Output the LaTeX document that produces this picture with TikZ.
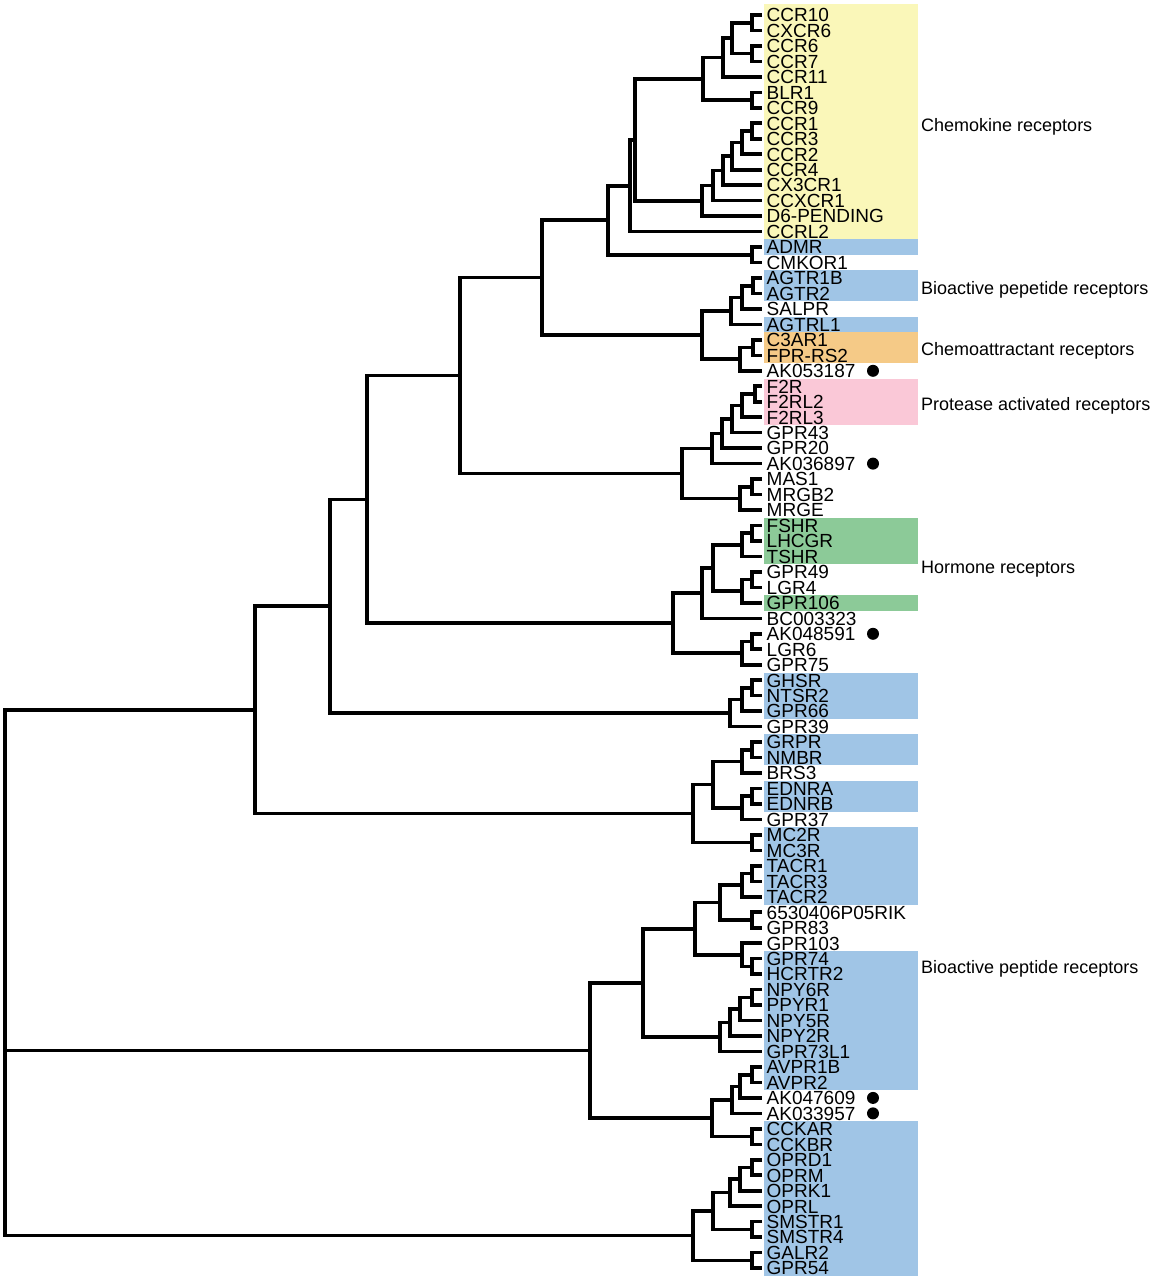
\documentclass[tikz,border=0pt]{standalone}
\usepackage{fontspec}
\setmainfont{Liberation Sans}
\usetikzlibrary{calc}
\definecolor{cyel}{RGB}{250,247,185}
\definecolor{cblu}{RGB}{160,197,230}
\definecolor{corg}{RGB}{245,202,135}
\definecolor{cpnk}{RGB}{250,200,215}
\definecolor{cgrn}{RGB}{140,202,152}
\tikzset{
  branch/.style={line width=3.6pt, black},
  leaf/.style={anchor=west, inner sep=0pt, font=\fontsize{19}{19}\selectfont, text height=13.6pt, text depth=0pt},
  grouplab/.style={anchor=base west, inner sep=0pt, font=\fontsize{18}{18}\selectfont},
  mark dot/.style={circle, fill=black, minimum size=12pt, inner sep=0pt}
}
\newcommand\tjoin[4]{%
  \path (#3) -- (#4) coordinate[pos=0.5] (jnmid);
  \coordinate (jnx) at (#2,0);
  \coordinate (#1) at (jnmid -| jnx);
  \draw[branch] (#3) -| (#1) |- (#4);%
}
\newcommand\gbox[3]{\fill[#1] ($(l#2)+(2,7.7)$) rectangle ($(l#3)+(156,-7.7)$);}
\begin{document}
\begin{tikzpicture}[x=1pt,y=1pt]
\fill[white] (0,0) rectangle (1149,-1280);
\useasboundingbox (0,0) rectangle (1149,-1280);
% leaf coordinates
\foreach \i in {1,...,82}{
  \pgfmathsetmacro\yy{-15-(\i-1)*15.47}
  \coordinate (l\i) at (762,\yy);
}
% coloured boxes
\fill[cyel] ($(l1)+(2,11)$) rectangle ($(l15)+(156,-7.7)$);
\gbox{cblu}{16}{16}
\gbox{cblu}{18}{19}
\gbox{cblu}{21}{21}
\gbox{corg}{22}{23}
\gbox{cpnk}{25}{27}
\gbox{cgrn}{34}{36}
\gbox{cgrn}{39}{39}
\gbox{cblu}{44}{46}
\gbox{cblu}{48}{49}
\gbox{cblu}{51}{52}
\gbox{cblu}{54}{58}
\gbox{cblu}{62}{70}
\gbox{cblu}{73}{82}
% leaf labels
\foreach \nm [count=\i] in {CCR10,CXCR6,CCR6,CCR7,CCR11,BLR1,CCR9,CCR1,CCR3,CCR2,CCR4,CX3CR1,CCXCR1,D6-PENDING,CCRL2,ADMR,CMKOR1,AGTR1B,AGTR2,SALPR,AGTRL1,C3AR1,FPR-RS2,AK053187,F2R,F2RL2,F2RL3,GPR43,GPR20,AK036897,MAS1,MRGB2,MRGE,FSHR,LHCGR,TSHR,GPR49,LGR4,GPR106,BC003323,AK048591,LGR6,GPR75,GHSR,NTSR2,GPR66,GPR39,GRPR,NMBR,BRS3,EDNRA,EDNRB,GPR37,MC2R,MC3R,TACR1,TACR3,TACR2,6530406P05RIK,GPR83,GPR103,GPR74,HCRTR2,NPY6R,PPYR1,NPY5R,NPY2R,GPR73L1,AVPR1B,AVPR2,AK047609,AK033957,CCKAR,CCKBR,OPRD1,OPRM,OPRK1,OPRL,SMSTR1,SMSTR4,GALR2,GPR54}{
  \node[leaf] (t\i) at ($(l\i)+(4.5,0)$) {\nm};
}
% dots
\foreach \i in {24,30,41,71,72}{
  \node[mark dot] (d\i) at ($(l\i)+(111,0)$) {};
}
% group labels
\node[grouplab] (gl1) at (921,-131.5) {Chemokine receptors};
\node[grouplab] (gl2) at (921,-294.5) {Bioactive pepetide receptors};
\node[grouplab] (gl3) at (921,-355.5) {Chemoattractant receptors};
\node[grouplab] (gl4) at (921,-410.5) {Protease activated receptors};
\node[grouplab] (gl5) at (921,-573.5) {Hormone receptors};
\node[grouplab] (gl6) at (921,-973.5) {Bioactive peptide receptors};
% tree
\tjoin{c1}{752}{l1}{l2}
\tjoin{c2}{752}{l3}{l4}
\tjoin{c3}{732}{c1}{c2}
\tjoin{c4}{723}{c3}{l5}
\tjoin{c5}{752}{l6}{l7}
\tjoin{c6}{703}{c4}{c5}
\tjoin{c7}{752}{l8}{l9}
\tjoin{c8}{742}{c7}{l10}
\tjoin{c9}{732}{c8}{l11}
\tjoin{c10}{723}{c9}{l12}
\tjoin{c11}{713}{c10}{l13}
\tjoin{c12}{702}{c11}{l14}
\tjoin{c13}{635}{c6}{c12}
\tjoin{c14}{630}{c13}{l15}
\tjoin{a1}{752}{l16}{l17}
\tjoin{c15}{608}{c14}{a1}
\tjoin{g1}{753}{l18}{l19}
\tjoin{g2}{742}{g1}{l20}
\tjoin{g3}{731}{g2}{l21}
\tjoin{g4}{753}{l22}{l23}
\tjoin{g5}{740}{g4}{l24}
\tjoin{g6}{702}{g3}{g5}
\tjoin{g7}{542}{c15}{g6}
\tjoin{p1}{755}{l25}{l26}
\tjoin{p2}{742}{p1}{l27}
\tjoin{p3}{732}{p2}{l28}
\tjoin{p4}{722}{p3}{l29}
\tjoin{p5}{712}{p4}{l30}
\tjoin{m1}{752}{l31}{l32}
\tjoin{m2}{740}{m1}{l33}
\tjoin{p6}{682}{p5}{m2}
\tjoin{q1}{460}{g7}{p6}
\tjoin{h1}{752}{l34}{l35}
\tjoin{h2}{742}{h1}{l36}
\tjoin{h3}{752}{l37}{l38}
\tjoin{h4}{742}{h3}{l39}
\tjoin{h5}{713}{h2}{h4}
\tjoin{h6}{702}{h5}{l40}
\tjoin{h7}{752}{l41}{l42}
\tjoin{h8}{742}{h7}{l43}
\tjoin{h9}{673}{h6}{h8}
\tjoin{q2}{367}{q1}{h9}
\tjoin{s1}{752}{l44}{l45}
\tjoin{s2}{742}{s1}{l46}
\tjoin{s3}{730}{s2}{l47}
\tjoin{q3}{330}{q2}{s3}
\tjoin{r1}{752}{l48}{l49}
\tjoin{r2}{742}{r1}{l50}
\tjoin{r3}{752}{l51}{l52}
\tjoin{r4}{742}{r3}{l53}
\tjoin{r5}{713}{r2}{r4}
\tjoin{r6}{752}{l54}{l55}
\tjoin{r7}{693}{r5}{r6}
\tjoin{q4}{255}{q3}{r7}
\tjoin{t1}{752}{l56}{l57}
\tjoin{t2}{742}{t1}{l58}
\tjoin{t3}{752}{l59}{l60}
\tjoin{t4}{720}{t2}{t3}
\tjoin{n1}{752}{l62}{l63}
\tjoin{n2}{742}{l61}{n1}
\tjoin{t5}{695}{t4}{n2}
\tjoin{n3}{752}{l64}{l65}
\tjoin{n4}{740}{n3}{l66}
\tjoin{n5}{730}{n4}{l67}
\tjoin{n6}{720}{n5}{l68}
\tjoin{t6}{643}{t5}{n6}
\tjoin{v1}{752}{l69}{l70}
\tjoin{v2}{740}{v1}{l71}
\tjoin{v3}{732}{v2}{l72}
\tjoin{k1}{752}{l73}{l74}
\tjoin{v4}{712}{v3}{k1}
\tjoin{u1}{590}{t6}{v4}
\tjoin{o1}{752}{l75}{l76}
\tjoin{o2}{740}{o1}{l77}
\tjoin{o3}{730}{o2}{l78}
\tjoin{o4}{752}{l79}{l80}
\tjoin{o5}{713}{o3}{o4}
\tjoin{o6}{752}{l81}{l82}
\tjoin{o7}{693}{o5}{o6}
% root
\coordinate (rootx) at (5,0);
\coordinate (root) at (u1 -| rootx);
\draw[branch] (q4) -| (root) |- (o7);
\draw[branch] (root) -- (u1);
\end{tikzpicture}
\end{document}
